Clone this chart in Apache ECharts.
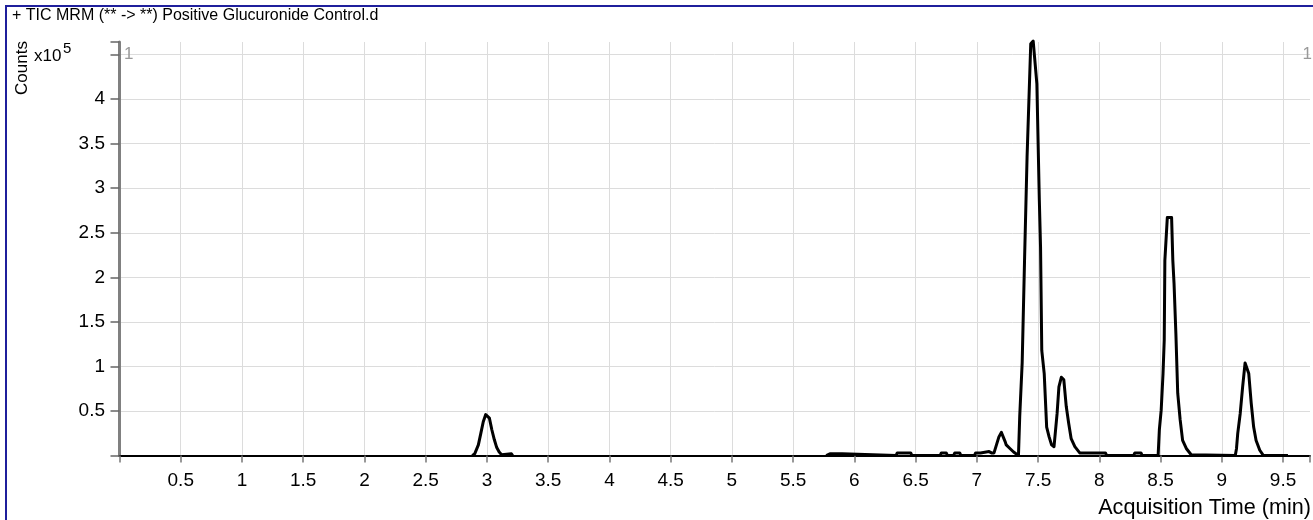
<!DOCTYPE html>
<html><head><meta charset="utf-8">
<script src="https://cdn.jsdelivr.net/npm/echarts@6/dist/echarts.min.js"></script>
<style>html,body{margin:0;padding:0;background:#fff}#c{width:1313px;height:520px}</style>
</head><body><div id="c"></div>
<script>
const titleText = '+ TIC MRM (** -> **) Positive Glucuronide Control.d';
const xAxisTitle = 'Acquisition Time (min)';
const yAxisTitle = 'Counts';
const yMultiplier = 'x10';
const yExponent = '5';
const windowMarker = '1';

const xTickLabels = [0.5, 1, 1.5, 2, 2.5, 3, 3.5, 4, 4.5, 5, 5.5, 6, 6.5, 7, 7.5, 8, 8.5, 9, 9.5];
const yTickLabels = [0.5, 1, 1.5, 2, 2.5, 3, 3.5, 4];

// segment 1 (min, counts x10^5)
const seg1Time   = [2.88, 2.90, 2.93, 2.95, 2.97, 2.99, 3.00, 3.02, 3.04, 3.06, 3.08, 3.10, 3.12, 3.13, 3.20, 3.21];
const seg1Counts = [0.00, 0.02, 0.12, 0.25, 0.38, 0.46, 0.48, 0.42, 0.29, 0.18, 0.09, 0.04, 0.01, 0.02, 0.02, 0.00];

// segment 2
const seg2Time = [5.77, 5.78, 5.80, 5.81, 5.83, 5.86, 5.87, 5.88, 5.90, 5.91,
  6.34, 6.35, 6.40, 6.41, 6.43, 6.46, 6.47, 6.50, 6.51,
  6.70, 6.71, 6.75, 6.76, 6.81, 6.82, 6.86, 6.87,
  6.98, 6.99, 7.03, 7.04, 7.10, 7.12, 7.14, 7.16, 7.18, 7.20, 7.21, 7.23, 7.24, 7.27, 7.30, 7.32, 7.34,
  7.35, 7.37, 7.39, 7.41, 7.44, 7.46, 7.49, 7.51, 7.52, 7.53, 7.55, 7.57, 7.59, 7.61, 7.63, 7.64, 7.655,
  7.67, 7.69, 7.71, 7.73, 7.75, 7.77, 7.80, 7.84,
  8.05, 8.06, 8.28, 8.29, 8.34, 8.35, 8.48, 8.49, 8.505, 8.52, 8.53, 8.535, 8.555, 8.59, 8.60, 8.61,
  8.625, 8.64, 8.66, 8.68, 8.71, 8.75,
  9.11, 9.12, 9.13, 9.15, 9.17, 9.19, 9.205, 9.22, 9.24, 9.26, 9.28, 9.31, 9.34, 9.54];
const seg2Counts = [0.00, 0.02, 0.02, 0.00, 0.02, 0.02, 0.00, 0.02, 0.02, 0.00,
  0.00, 0.03, 0.03, 0.01, 0.03, 0.03, 0.00, 0.00, 0.00,
  0.00, 0.03, 0.03, 0.00, 0.00, 0.03, 0.03, 0.00,
  0.00, 0.03, 0.03, 0.045, 0.045, 0.03, 0.03, 0.12, 0.21, 0.26, 0.25, 0.16, 0.12, 0.08, 0.04, 0.02, 0.01,
  0.44, 1.04, 2.23, 3.35, 4.62, 4.65, 4.17, 2.87, 2.34, 1.18, 0.92, 0.32, 0.21, 0.12, 0.10, 0.12, 0.47,
  0.77, 0.88, 0.85, 0.55, 0.36, 0.19, 0.10, 0.03,
  0.03, 0.00, 0.00, 0.03, 0.03, 0.00, 0.00, 0.29, 0.51, 0.92, 1.30, 2.19, 2.67, 2.67, 2.19, 1.93,
  1.37, 0.70, 0.40, 0.17, 0.08, 0.01,
  0.00, 0.08, 0.25, 0.47, 0.77, 1.04, 1.03, 0.92, 0.59, 0.32, 0.17, 0.06, 0.00, 0.00];

const FONT = '"Liberation Sans", Arial, sans-serif';
const GRID = '#dcdcdc';
const pairs = (t, c) => t.map((v, i) => [v, c[i]]);
const inList = (list, v) => list.some(x => Math.abs(x - v) < 1e-6);

const xSplitColors = ['rgba(0,0,0,0)'].concat(Array(19).fill(GRID), ['rgba(0,0,0,0)']);
const ySplitColors = ['rgba(0,0,0,0)'].concat(Array(9).fill(GRID), ['rgba(0,0,0,0)']);

const lineSeries = (data) => ({
  type: 'line', data: data, showSymbol: false, symbol: 'none', clip: false,
  lineStyle: { color: '#000', width: 3, join: 'round' }, silent: true, z: 5
});

const chart = echarts.init(document.getElementById('c'), null, { renderer: 'canvas' });
chart.setOption({
  animation: false,
  backgroundColor: '#fff',
  grid: { left: 119.5, right: 0, top: 42, bottom: 64.4, containLabel: false },
  xAxis: {
    type: 'value', min: 0, max: 9.72, interval: 0.5, offset: 3,
    axisLine: { show: true, lineStyle: { color: '#000', width: 2 } },
    axisTick: { show: true, length: 7, lineStyle: { color: '#777', width: 1.5 } },
    axisLabel: {
      margin: 13, color: '#000', fontFamily: FONT, fontSize: 19,
      showMinLabel: true, showMaxLabel: true,
      formatter: v => inList(xTickLabels, v) ? String(v) : ''
    },
    splitLine: { show: true, lineStyle: { color: xSplitColors, width: 1 } }
  },
  yAxis: {
    type: 'value', min: 0, max: 4.64, interval: 0.5, offset: 2.5,
    axisLine: { show: true, lineStyle: { color: '#808080', width: 3 } },
    axisTick: { show: true, length: 9, lineStyle: { color: '#666', width: 1.5 } },
    axisLabel: {
      margin: 12, color: '#000', fontFamily: FONT, fontSize: 19,
      showMinLabel: true, showMaxLabel: true,
      formatter: v => inList(yTickLabels, v) ? String(v) : ''
    },
    splitLine: { show: true, lineStyle: { color: ySplitColors, width: 1 } }
  },
  series: [lineSeries(pairs(seg1Time, seg1Counts)), lineSeries(pairs(seg2Time, seg2Counts))],
  graphic: [
    { type: 'rect', shape: { x: 6, y: 6, width: 1400, height: 600 },
      style: { fill: 'none', stroke: '#1f1f9c', lineWidth: 2 }, silent: true, z: 10 },
    { type: 'text', x: 12, y: 16, style: { text: titleText, fontFamily: FONT, fontSize: 16, fill: '#000', align: 'left', verticalAlign: 'middle' }, z: 10 },
    { type: 'text', x: 22, y: 68, rotation: Math.PI / 2, style: { text: yAxisTitle, fontFamily: FONT, fontSize: 17, fill: '#000', align: 'center', verticalAlign: 'middle' }, z: 10 },
    { type: 'text', x: 34, y: 56, style: { text: yMultiplier, fontFamily: FONT, fontSize: 17, fill: '#000', align: 'left', verticalAlign: 'middle' }, z: 10 },
    { type: 'text', x: 63, y: 49, style: { text: yExponent, fontFamily: FONT, fontSize: 15, fill: '#000', align: 'left', verticalAlign: 'middle' }, z: 10 },
    { type: 'text', x: 124, y: 54, style: { text: windowMarker, fontFamily: FONT, fontSize: 17, fill: '#999', align: 'left', verticalAlign: 'middle' }, z: 10 },
    { type: 'text', x: 1312, y: 54, style: { text: windowMarker, fontFamily: FONT, fontSize: 17, fill: '#999', align: 'right', verticalAlign: 'middle' }, z: 10 },
    { type: 'text', x: 1311, y: 508, style: { text: xAxisTitle, fontFamily: FONT, fontSize: 21.6, fill: '#000', align: 'right', verticalAlign: 'middle' }, z: 10 }
  ]
});
</script></body></html>
